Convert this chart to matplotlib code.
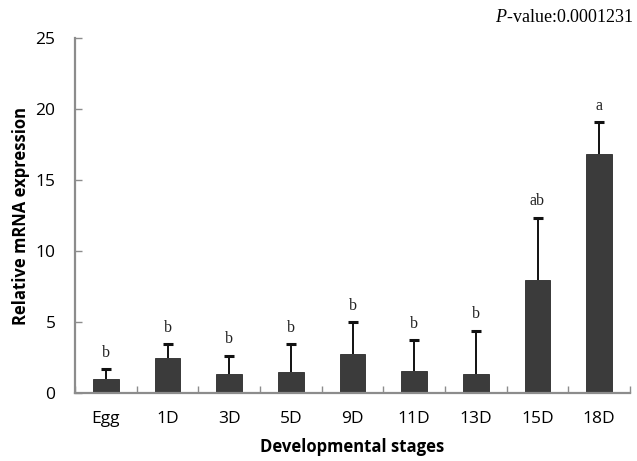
import matplotlib
matplotlib.use("Agg")
import matplotlib.pyplot as plt
import numpy as np

stages = ["Egg", "1D", "3D", "5D", "9D", "11D", "13D", "15D", "18D"]
expression = [1.0, 2.45, 1.35, 1.48, 2.75, 1.55, 1.35, 7.95, 16.8]
err_upper = [0.67, 1.0, 1.28, 1.95, 2.23, 2.18, 3.04, 4.4, 2.26]
groups = ["b", "b", "b", "b", "b", "b", "b", "ab", "a"]
y_ticks = [0, 5, 10, 15, 20, 25]

plt.rcParams["mathtext.fontset"] = "custom"
plt.rcParams["mathtext.rm"] = "Liberation Serif"
plt.rcParams["mathtext.it"] = "Liberation Serif:italic"

sans = ["Open Sans", "DejaVu Sans"]
serif = ["Liberation Serif", "DejaVu Serif"]
axis_grey = "#8c8c8c"

fig = plt.figure(figsize=(6.37, 4.61), dpi=100)
ax = fig.add_axes([75 / 637, 68 / 461, 555 / 637, 355 / 461])

x = np.arange(len(stages))
ax.bar(x, expression, width=0.42, color="#3b3b3b", edgecolor="#2a2a2a",
       linewidth=0.6, zorder=2)
eb = ax.errorbar(x, expression, yerr=[np.zeros(len(x)), err_upper],
                 fmt="none", ecolor="#111111", elinewidth=1.4, capsize=3.5,
                 capthick=2.2, zorder=3)
# only the upper whisker carries a cap
eb[1][0].set_visible(False)

for xi, v, e, g in zip(x, expression, err_upper, groups):
    ax.annotate(g, (xi, v + e), xytext=(0, 6), textcoords="offset points",
                ha="center", va="bottom", fontsize=11.5, family=serif,
                color="#222222")

ax.set_xlim(-0.5, len(stages) - 0.5)
ax.set_ylim(0, 25)
ax.set_yticks(y_ticks)
ax.set_yticklabels([str(t) for t in y_ticks], family=sans, fontsize=12.5)
ax.set_xticks(x)
ax.set_xticklabels(stages, family=sans, fontsize=12.5)
ax.set_xticks(np.arange(len(stages) + 1) - 0.5, minor=True)
ax.tick_params(axis="x", which="major", length=0, pad=13)
ax.tick_params(axis="x", which="minor", direction="in", length=5,
               color=axis_grey, width=1.0)
ax.tick_params(axis="y", direction="in", length=5, color=axis_grey,
               width=1.0, pad=14)

for side in ("top", "right"):
    ax.spines[side].set_visible(False)
for side in ("left", "bottom"):
    ax.spines[side].set_color(axis_grey)
    ax.spines[side].set_linewidth(1.6)

ax.set_xlabel("Developmental stages", family=sans, fontsize=12,
              fontweight="bold", labelpad=8)
ax.set_ylabel("Relative mRNA expression", family=sans, fontsize=12,
              fontweight="bold", labelpad=4)

fig.text(634 / 637, 1 - 18 / 461, r"$P$-value:0.0001231", ha="right",
         va="center", fontsize=13, family=serif)

fig.savefig("out.png", dpi=100)
